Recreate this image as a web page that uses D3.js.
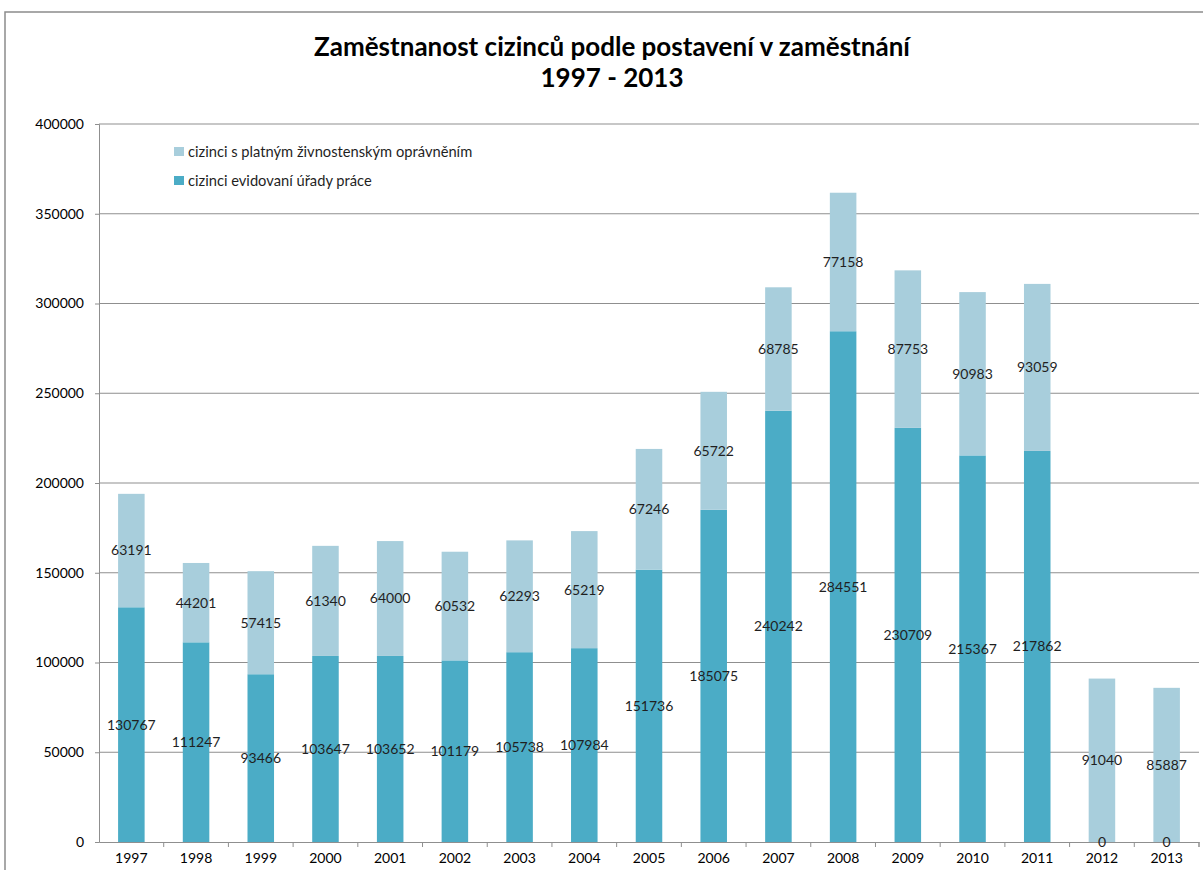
<!DOCTYPE html>
<html>
<head>
<meta charset="utf-8">
<script src="https://cdn.jsdelivr.net/npm/d3@7"></script>
<style>
  body { margin: 0; background: #fff; }
  svg text { font-family: Lato, "Open Sans", sans-serif; }
</style>
</head>
<body>
<div id="chart"></div>
<script>
// data
const years = ["1997", "1998", "1999", "2000", "2001", "2002", "2003", "2004", "2005",
               "2006", "2007", "2008", "2009", "2010", "2011", "2012", "2013"];
const evidovani = [130767, 111247, 93466, 103647, 103652, 101179, 105738, 107984, 151736,
                   185075, 240242, 284551, 230709, 215367, 217862, 0, 0];
const zivnost = [63191, 44201, 57415, 61340, 64000, 60532, 62293, 65219, 67246,
                 65722, 68785, 77158, 87753, 90983, 93059, 91040, 85887];
const seriesNames = ["cizinci evidovaní úřady práce", "cizinci s platným živnostenským oprávněním"];
const yTicks = [0, 50000, 100000, 150000, 200000, 250000, 300000, 350000, 400000];
const titleLines = ["Zaměstnanost cizinců podle postavení v zaměstnání", "1997 - 2013"];

const width = 1203, height = 870;
const margin = { top: 124, right: 4, bottom: 28, left: 99 };
const innerWidth = width - margin.left - margin.right;
const innerHeight = height - margin.top - margin.bottom;
const colors = ["#4bacc6", "#a8cedc"];

const svg = d3.select("#chart").append("svg")
    .attr("width", width)
    .attr("height", height);

// chart frame
svg.append("rect")
    .attr("x", 5).attr("y", 12)
    .attr("width", 1400).attr("height", 1000)
    .attr("fill", "none")
    .attr("stroke", "#8c8c8c")
    .attr("stroke-width", 1.5);

svg.selectAll("text.title")
    .data(titleLines)
    .enter().append("text")
    .attr("class", "title")
    .attr("x", 612)
    .attr("y", (d, i) => 56 + i * 31)
    .attr("text-anchor", "middle")
    .style("font-size", "26px")
    .style("font-weight", "bold")
    .style("fill", "#000")
    .text(d => d);

const g = svg.append("g")
    .attr("transform", `translate(${margin.left},${margin.top})`);

const x = d3.scaleBand()
    .domain(years)
    .range([0, innerWidth])
    .padding(0);

const y = d3.scaleLinear()
    .domain([0, 400000])
    .range([innerHeight, 0]);

// gridlines
g.append("g")
    .selectAll("line")
    .data(yTicks.slice(1))
    .enter().append("line")
    .attr("x1", 0).attr("x2", innerWidth)
    .attr("y1", d => y(d)).attr("y2", d => y(d))
    .attr("stroke", "#8f8f8f")
    .attr("stroke-width", 1);

const rows = years.map((yr, i) => ({ year: yr, v: [evidovani[i], zivnost[i]] }));
const stack = d3.stack().keys([0, 1]).value((d, k) => d.v[k]);
const layers = stack(rows);

const barW = x.bandwidth() * 0.41;

const layer = g.selectAll("g.layer")
    .data(layers)
    .enter().append("g")
    .attr("class", "layer")
    .attr("fill", (d, i) => colors[i]);

layer.selectAll("rect")
    .data(d => d)
    .enter().append("rect")
    .attr("x", d => x(d.data.year) + (x.bandwidth() - barW) / 2)
    .attr("y", d => y(d[1]))
    .attr("width", barW)
    .attr("height", d => y(d[0]) - y(d[1]));

// y axis
const yAxis = g.append("g")
    .call(d3.axisLeft(y).tickValues(yTicks).tickSize(4).tickFormat(d3.format("d")));
yAxis.selectAll("text")
    .style("font-size", "14px")
    .style("fill", "#000")
    .attr("x", -15);

// x axis
const xAxis = g.append("g")
    .attr("transform", `translate(0,${innerHeight})`)
    .call(d3.axisBottom(x).tickSize(0));
xAxis.selectAll(".tick text")
    .style("font-size", "14px")
    .style("fill", "#000")
    .attr("dy", "1.25em");
xAxis.selectAll(".tick")
    .append("line")
    .attr("x1", x.bandwidth() / 2).attr("x2", x.bandwidth() / 2)
    .attr("y1", 0).attr("y2", 5)
    .attr("stroke", "#8f8f8f");
xAxis.append("line")
    .attr("x1", innerWidth).attr("x2", innerWidth)
    .attr("y1", 0).attr("y2", 5)
    .attr("stroke", "#8f8f8f");

[xAxis, yAxis].forEach(a => {
    a.select(".domain").attr("stroke", "#8f8f8f");
    a.selectAll(".tick line").attr("stroke", "#8f8f8f");
});

// data labels in the middle of each segment
layers.forEach((ly, k) => {
    g.append("g")
        .selectAll("text")
        .data(ly)
        .enter().append("text")
        .attr("x", d => x(d.data.year) + x.bandwidth() / 2)
        .attr("y", d => y((d[0] + d[1]) / 2))
        .attr("dy", "0.35em")
        .attr("text-anchor", "middle")
        .style("font-size", "14px")
        .style("fill", "#1f1f1f")
        .text(d => d.data.v[k]);
});

// legend
const legend = svg.append("g")
    .attr("transform", "translate(174,147)");
const legendItems = [1, 0];
legendItems.forEach((k, i) => {
    legend.append("rect")
        .attr("x", 0).attr("y", i * 29)
        .attr("width", 10).attr("height", 9)
        .attr("fill", colors[k]);
    legend.append("text")
        .attr("x", 14).attr("y", i * 29 + 5)
        .attr("dy", "0.35em")
        .style("font-size", "14.7px")
        .style("fill", "#1f1f1f")
        .text(seriesNames[k]);
});
</script>
</body>
</html>
